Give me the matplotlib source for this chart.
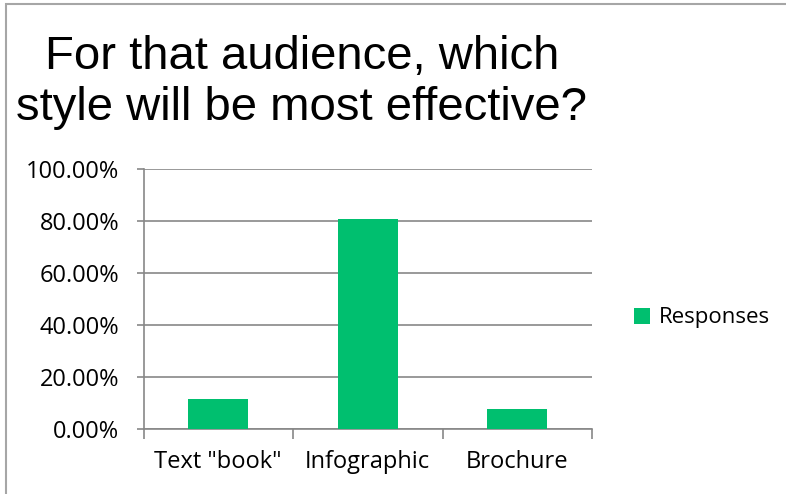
import matplotlib.pyplot as plt
from matplotlib.patches import Rectangle
from matplotlib.ticker import FuncFormatter

# Survey results
categories = ['Text "book"', 'Infographic', 'Brochure']
responses = [11.54, 80.77, 7.69]
yticks = [0, 20, 40, 60, 80, 100]
title_lines = ['For that audience, which', 'style will be most effective?']

green = '#00bf6f'
grid = '#878787'

fig = plt.figure(figsize=(7.86, 4.94), dpi=100)

# outer chart border (runs off the right and bottom edge)
fig.patches.append(Rectangle((6 / 786, -0.1), 1.2, 1 - 4 / 494 + 0.1,
                             transform=fig.transFigure, fill=False,
                             edgecolor='#a6a6a6', linewidth=1.5))

ax = fig.add_axes([143.5 / 786, 1 - 428.7 / 494, (592 - 143.5) / 786, (428.7 - 169) / 494])

x = list(range(len(categories)))
ax.bar(x, responses, width=0.4, color=green, zorder=3, label='Responses')

ax.set_xlim(-0.5, len(categories) - 0.5)
ax.set_ylim(0, 100)
ax.set_yticks(yticks)
ax.yaxis.set_major_formatter(FuncFormatter(lambda v, p: f'{v:.2f}%'))
ax.yaxis.grid(True, color=grid, linewidth=1.2, zorder=0)

ax.set_xticks([i - 0.5 for i in range(len(categories) + 1)])
ax.set_xticklabels([])
ax.set_xticks(x, minor=True)
ax.set_xticklabels(categories, minor=True)
ax.tick_params(axis='x', which='major', direction='out', length=7, color=grid, width=1.2)
ax.tick_params(axis='x', which='minor', length=0, pad=15, labelsize=17)
ax.tick_params(axis='y', direction='out', length=5, color=grid, width=1.2, pad=12.5, labelsize=17)
for lab in ax.get_xticklabels(minor=True) + ax.get_yticklabels():
    lab.set_family('Open Sans')

for side in ['top', 'right']:
    ax.spines[side].set_visible(False)
for side in ['left', 'bottom']:
    ax.spines[side].set_color(grid)
    ax.spines[side].set_linewidth(1.2)

# two-line title, placed by baseline
for line, base in zip(title_lines, [69, 120]):
    fig.text(302 / 786, 1 - base / 494, line, ha='center', va='baseline',
             fontsize=34, family='Liberation Sans')

ax.legend(loc='center left', bbox_to_anchor=(614 / 786, 1 - 318 / 494),
          bbox_transform=fig.transFigure, frameon=False, handlelength=0.7,
          handleheight=0.7, handletextpad=0.4,
          prop={'family': 'Open Sans', 'size': 16})

fig.savefig('out.png', dpi=100)
